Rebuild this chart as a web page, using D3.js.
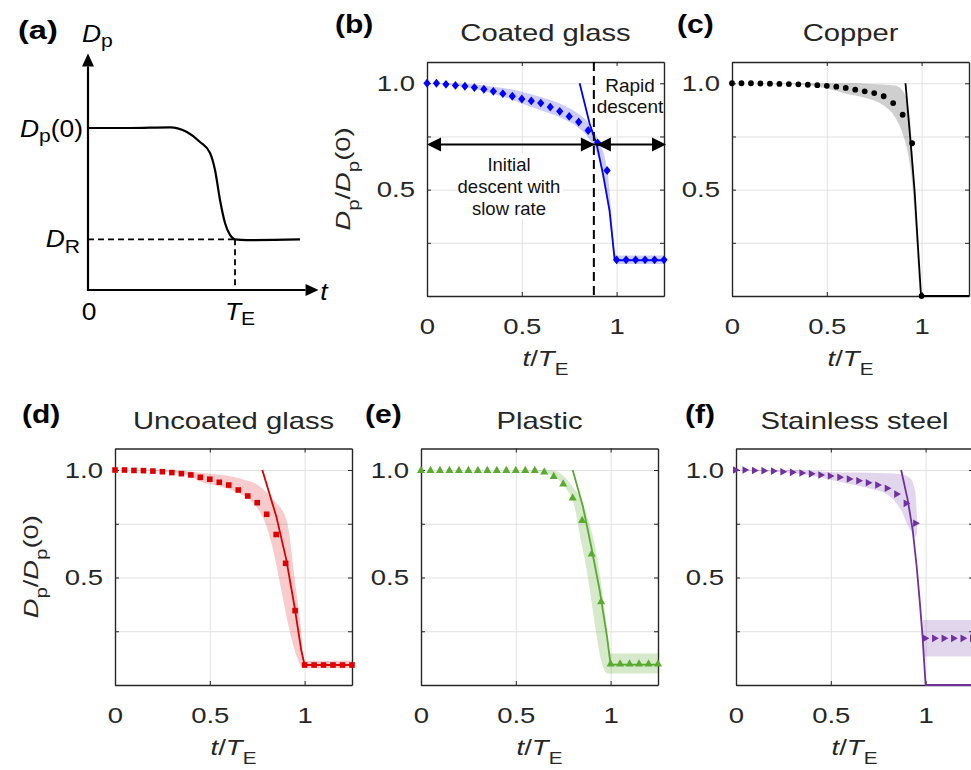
<!DOCTYPE html>
<html><head><meta charset="utf-8">
<script src="https://cdn.jsdelivr.net/npm/d3@7/dist/d3.min.js"></script>
<style>
 html,body{margin:0;padding:0;background:#fff}
 svg text{font-family:"Liberation Sans",Arial,Helvetica,sans-serif}
</style></head>
<body><svg id="fig" width="971" height="770" xmlns="http://www.w3.org/2000/svg"></svg>
<script>
// ================= DATA =================
// (a) schematic curve: t in units of T_E, D in units of Dp(0)
const schemT = [0, 0.286, 0.558, 0.673, 0.762, 0.830, 0.864, 0.898, 0.932, 0.966, 1.0, 1.082, 1.442];
const schemD = [1.0, 1.0, 1.004, 0.975, 0.914, 0.846, 0.741, 0.556, 0.414, 0.340, 0.313, 0.308, 0.312];
const schemDR = 0.313;

// sampling times of the measured points (t / T_E)
const tMeas = [0,0.05,0.1,0.15,0.2,0.25,0.3,0.35,0.4,0.45,0.5,0.55,0.6,0.65,0.7,0.75,0.8,0.85,0.9,0.95,1.0,1.05,1.1,1.15,1.2,1.25];
const tCopper = [0,0.05,0.1,0.15,0.2,0.25,0.3,0.35,0.4,0.45,0.5,0.55,0.6,0.65,0.7,0.75,0.8,0.85,0.9,0.95,1.0];

// (b) Coated glass
const coatedD = [1.0,1.0,0.995,0.99,0.986,0.98,0.972,0.962,0.951,0.939,0.926,0.917,0.907,0.888,0.868,0.844,0.818,0.778,0.72,0.59,0.17,0.17,0.17,0.17,0.17,0.17];
const coatedFitT = [0.805,0.858,0.896,0.928,0.963,0.99,1.25];
const coatedFitD = [1.0,0.81,0.708,0.574,0.40,0.168,0.168];
const coatedBandT  = [0,0.1,0.2,0.3,0.4,0.5,0.6,0.7,0.8,0.85,0.9,0.95,1.0,1.25];
const coatedBandHi = [1.0,1.0,0.997,0.99,0.978,0.96,0.935,0.905,0.855,0.815,0.74,0.6,0.19,0.19];
const coatedBandLo = [1.0,0.995,0.983,0.962,0.938,0.905,0.873,0.84,0.79,0.745,0.66,0.45,0.15,0.15];

// (c) Copper
const copperD = [1.0,1.0,1.0,0.999,0.998,0.997,0.996,0.995,0.993,0.991,0.988,0.984,0.978,0.97,0.962,0.954,0.939,0.907,0.852,0.718,0.0];
const copperFitT = [0.915,0.942,0.963,0.98,0.997,1.25];
const copperFitD = [1.0,0.723,0.495,0.244,0.0,0.0];
const copperBandT  = [0,0.3,0.4,0.5,0.6,0.7,0.8,0.86,0.9,0.93,0.95,0.97,0.99,1.0];
const copperBandHi = [1,1,1,1,1,0.998,0.993,0.99,0.965,0.89,0.7,0.38,0.05,0];
const copperBandLo = [1,0.997,0.99,0.975,0.951,0.932,0.895,0.84,0.764,0.66,0.53,0.29,0.03,0];

// (d) Uncoated glass
const uncoatedD = [1.0,1.0,0.998,0.997,0.995,0.992,0.988,0.983,0.977,0.966,0.957,0.943,0.93,0.907,0.879,0.848,0.794,0.70,0.566,0.346,0.093,0.093,0.093,0.093,0.093,0.093];
const uncoatedFitT = [0.777,0.851,0.904,0.947,0.982,1.0,1.25];
const uncoatedFitD = [1.0,0.783,0.581,0.364,0.163,0.093,0.093];
const uncoatedBandT  = [0,0.2,0.3,0.4,0.45,0.55,0.62,0.7,0.745,0.8,0.842,0.877,0.912,0.947,0.974,1.0,1.25];
const uncoatedBandHi = [1,1,0.998,0.993,0.987,0.978,0.969,0.95,0.935,0.895,0.855,0.82,0.74,0.5,0.32,0.113,0.113];
const uncoatedBandLo = [1,0.995,0.988,0.97,0.946,0.925,0.905,0.868,0.829,0.736,0.597,0.442,0.287,0.163,0.1,0.078,0.078];

// (e) Plastic
const plasticD = [1,1,1,1,1,1,1,1,1,1,1,1,1,0.993,0.972,0.937,0.872,0.768,0.612,0.39,0.1,0.1,0.1,0.1,0.1,0.1];
const plasticFitT = [0.80,0.854,0.898,0.942,0.981,1.0,1.25];
const plasticFitD = [1.0,0.83,0.643,0.442,0.225,0.095,0.095];
const plasticBandT  = [0,0.55,0.62,0.66,0.71,0.76,0.81,0.836,0.871,0.898,0.924,0.95,0.981,1.0,1.25];
const plasticBandHi = [1,1,1,1,0.995,0.965,0.91,0.88,0.8,0.72,0.62,0.47,0.26,0.147,0.147];
const plasticBandLo = [1,1,0.995,0.985,0.965,0.92,0.83,0.705,0.55,0.395,0.24,0.116,0.054,0.054,0.054];

// (f) Stainless steel
const steelD = [1.0,1.0,0.998,0.997,0.995,0.992,0.989,0.986,0.982,0.977,0.972,0.966,0.958,0.95,0.941,0.93,0.915,0.888,0.845,0.752,0.217,0.217,0.217,0.217,0.217,0.217];
const steelFitT = [0.871,0.906,0.932,0.953,0.97,0.984,1.0,1.25];
const steelFitD = [1.0,0.86,0.72,0.55,0.38,0.225,0.0,0.0];
const steelBandT  = [0,0.3,0.4,0.5,0.6,0.7,0.8,0.87,0.92,0.945,0.955,0.97,0.985,1.25];
const steelBandHi = [1,1,0.995,0.99,0.988,0.987,0.985,0.98,0.96,0.9,0.78,null,0.302,0.302];
const steelBandLo = [1,0.985,0.975,0.955,0.935,0.915,0.885,0.814,0.72,0.69,0.7,null,0.132,0.132];

// axes ticks
const xTickValues = [0, 0.5, 1];
const xTickLabels = ['0', '0.5', '1'];
const yTickValues = [0, 0.25, 0.5, 0.75, 1.0];
const yTickLabels = ['', '', '0.5', '', '1.0'];

// (b) annotation
const splitT = 0.88, arrowD = 0.712;

// ================= DRAW =================
const svg = d3.select('#fig');
const INK = '#262626', GRID = '#e1e1e1';

function rich(parent, o) {
  let tr = `translate(${o.x},${o.y})`;
  if (o.rotate) tr += ` rotate(${o.rotate})`;
  tr += ` scale(${o.sx || 1},1)`;
  const t = parent.append('text').attr('transform', tr)
    .attr('font-size', o.size).attr('text-anchor', o.anchor || 'start')
    .attr('fill', o.fill || INK).attr('font-weight', o.weight || 'normal');
  let cur = 0;
  o.parts.forEach(p => {
    const target = p.sub ? o.size * (o.subDrop ?? 0.42) : 0;
    const ts = t.append('tspan').text(p.t);
    if (target !== cur) ts.attr('dy', target - cur);
    cur = target;
    if (p.sub) ts.attr('font-size', o.size * (o.subSize ?? 0.75));
    if (p.it) ts.attr('font-style', 'italic');
  });
  return t;
}

// ---------- panel (a) ----------
(function () {
  const g = svg.append('g');
  const ax = d3.scaleLinear().domain([0, 1]).range([88, 235]);
  const ay = d3.scaleLinear().domain([0, 1]).range([290, 128]);
  const st = '#000';
  g.append('line').attr('x1', ax(0)).attr('y1', ay(0) + 1).attr('x2', ax(0)).attr('y2', ay(1.38))
    .attr('stroke', st).attr('stroke-width', 2.2);
  g.append('path').attr('d', `M${ax(0) - 6},${ay(1.38)} L${ax(0) + 6},${ay(1.38)} L${ax(0)},${ay(1.38) - 13} Z`).attr('fill', st);
  g.append('line').attr('x1', ax(0) - 1).attr('y1', ay(0)).attr('x2', ax(1.48)).attr('y2', ay(0))
    .attr('stroke', st).attr('stroke-width', 2.2);
  g.append('path').attr('d', `M${ax(1.48)},${ay(0) - 6} L${ax(1.48)},${ay(0) + 6} L${ax(1.48) + 13},${ay(0)} Z`).attr('fill', st);
  g.append('line').attr('x1', ax(0)).attr('x2', ax(1)).attr('y1', ay(schemDR)).attr('y2', ay(schemDR))
    .attr('stroke', st).attr('stroke-width', 1.8).attr('stroke-dasharray', '6,4');
  g.append('line').attr('x1', ax(1)).attr('x2', ax(1)).attr('y1', ay(schemDR)).attr('y2', ay(0))
    .attr('stroke', st).attr('stroke-width', 1.8).attr('stroke-dasharray', '6,4');
  g.append('path').datum(schemT.map((t, i) => [t, schemD[i]]))
    .attr('d', d3.line().x(d => ax(d[0])).y(d => ay(d[1])).curve(d3.curveMonotoneX))
    .attr('fill', 'none').attr('stroke', st).attr('stroke-width', 2.2);
  const o = { size: 24, sx: 1.1, fill: '#000', subDrop: 0.22, subSize: 0.8 };
  rich(g, { ...o, x: 18, y: 39, size: 25, sx: 1.3, weight: 'bold', parts: [{ t: '(a)' }] });
  rich(g, { ...o, x: 82, y: 42, parts: [{ t: 'D', it: 1 }, { t: 'p', sub: 1 }] });
  rich(g, { ...o, x: 83, y: ay(1) + 9, anchor: 'end', parts: [{ t: 'D', it: 1 }, { t: 'p', sub: 1 }, { t: '(0)' }] });
  rich(g, { ...o, x: 80, y: ay(schemDR) + 8, anchor: 'end', parts: [{ t: 'D', it: 1 }, { t: 'R', sub: 1 }] });
  rich(g, { ...o, x: ax(0) + 1, y: ay(0) + 30, anchor: 'middle', parts: [{ t: '0' }] });
  rich(g, { ...o, x: ax(1) + 5, y: ay(0) + 30, anchor: 'middle', parts: [{ t: 'T', it: 1 }, { t: 'E', sub: 1 }] });
  rich(g, { ...o, x: ax(1.58), y: ay(0) + 10, parts: [{ t: 't', it: 1 }] });
})();

// ---------- marker shapes ----------
const symDiamond = { draw(c) { c.moveTo(0, -4.4); c.lineTo(3.6, 0); c.lineTo(0, 4.4); c.lineTo(-3.6, 0); c.closePath(); } };
const symDot = { draw(c) { c.moveTo(2.9, 0); c.arc(0, 0, 2.9, 0, 2 * Math.PI); } };
const symSquare = { draw(c) { c.rect(-2.8, -2.8, 5.6, 5.6); } };
const symTriUp = { draw(c) { c.moveTo(0, -4.2); c.lineTo(4, 3); c.lineTo(-4, 3); c.closePath(); } };
const symTriRight = { draw(c) { c.moveTo(3.8, 0); c.lineTo(-3, -3.8); c.lineTo(-3, 3.8); c.closePath(); } };

// ---------- measured panels ----------
const W = 237;
const panels = [
  { key: 'b', left: 427, top: 62, h: 234, titleY: 41, letterX: 335, letterY: 33, letter: '(b)', title: 'Coated glass',
    color: '#0000ff', bandOp: 0.2, t: tMeas, d: coatedD, fitT: coatedFitT, fitD: coatedFitD,
    bandT: coatedBandT, bandHi: coatedBandHi, bandLo: coatedBandLo, sym: symDiamond, ylabel: true },
  { key: 'c', left: 732, top: 62, h: 234, titleY: 41, letterX: 677, letterY: 33, letter: '(c)', title: 'Copper',
    color: '#000000', bandOp: 0.19, t: tCopper, d: copperD, fitT: copperFitT, fitD: copperFitD,
    bandT: copperBandT, bandHi: copperBandHi, bandLo: copperBandLo, sym: symDot },
  { key: 'd', left: 115, top: 448.5, h: 236.5, titleY: 429, letterX: 22, letterY: 423, letter: '(d)', title: 'Uncoated glass',
    color: '#dc0000', bandOp: 0.2, t: tMeas, d: uncoatedD, fitT: uncoatedFitT, fitD: uncoatedFitD,
    bandT: uncoatedBandT, bandHi: uncoatedBandHi, bandLo: uncoatedBandLo, sym: symSquare, ylabel: true },
  { key: 'e', left: 421, top: 448.5, h: 236.5, titleY: 429, letterX: 365, letterY: 423, letter: '(e)', title: 'Plastic',
    color: '#5aaa30', bandOp: 0.25, t: tMeas, d: plasticD, fitT: plasticFitT, fitD: plasticFitD,
    bandT: plasticBandT, bandHi: plasticBandHi, bandLo: plasticBandLo, sym: symTriUp },
  { key: 'f', left: 736, top: 448.5, h: 236.5, titleY: 429, letterX: 685, letterY: 423, letter: '(f)', title: 'Stainless steel',
    color: '#7030a0', bandOp: 0.2, t: tMeas, d: steelD, fitT: steelFitT, fitD: steelFitD,
    bandT: steelBandT, bandHi: steelBandHi, bandLo: steelBandLo, sym: symTriRight }
];

panels.forEach(cfg => {
  const h = cfg.h;
  const g = svg.append('g').attr('transform', `translate(${cfg.left},${cfg.top})`);
  const x = d3.scaleLinear().domain([0, 1.25]).range([0, W]);
  const y = d3.scaleLinear().domain([0, 1.1]).range([h, 0]);

  g.append('g').attr('transform', `translate(0,${h})`)
    .call(d3.axisBottom(x).tickValues(xTickValues).tickSize(-h).tickFormat(''))
    .call(s => { s.select('.domain').remove(); s.selectAll('line').attr('stroke', GRID).attr('stroke-width', 1); });
  g.append('g')
    .call(d3.axisLeft(y).tickValues(yTickValues).tickSize(-W).tickFormat(''))
    .call(s => { s.select('.domain').remove(); s.selectAll('line').attr('stroke', GRID).attr('stroke-width', 1); });

  if (cfg.key === 'b') {
    g.append('rect').attr('x', 30).attr('y', 91).attr('width', 106).attr('height', 66).attr('fill', '#fff');
    g.append('rect').attr('x', x(splitT) + 4).attr('y', 2).attr('width', W - x(splitT) - 6).attr('height', 56).attr('fill', '#fff');
  }

  const fr = g.append('g');
  fr.append('g').attr('transform', `translate(0,${h})`)
    .call(d3.axisBottom(x).tickValues(xTickValues).tickSizeInner(-4).tickSizeOuter(0).tickPadding(22)
      .tickFormat((d, i) => xTickLabels[i]));
  fr.append('g').call(d3.axisTop(x).tickValues(xTickValues).tickSizeInner(-4).tickSizeOuter(0).tickFormat(''));
  fr.append('g').call(d3.axisLeft(y).tickValues(yTickValues).tickSizeInner(-4).tickSizeOuter(0).tickPadding(9.6)
    .tickFormat((d, i) => yTickLabels[i]));
  fr.append('g').attr('transform', `translate(${W},0)`)
    .call(d3.axisRight(y).tickValues(yTickValues).tickSizeInner(-4).tickSizeOuter(0).tickFormat(''));
  fr.selectAll('.domain').attr('stroke', INK).attr('stroke-width', 1.4);
  fr.selectAll('.tick line').attr('stroke', INK).attr('stroke-width', 1);
  fr.selectAll('.tick text').attr('font-size', 22).attr('fill', INK).attr('transform', 'scale(1.25,1)');

  const cid = 'clip-' + cfg.key;
  g.append('clipPath').attr('id', cid).append('rect').attr('x', -1).attr('y', -1).attr('width', W + 2).attr('height', h + 2);
  const dl = g.append('g').attr('clip-path', `url(#${cid})`);
  const band = cfg.bandT.map((t, i) => ({ t, hi: cfg.bandHi[i], lo: cfg.bandLo[i] }));
  dl.append('path').datum(band)
    .attr('d', d3.area().defined(d => d.hi != null).x(d => x(d.t)).y0(d => y(d.lo)).y1(d => y(d.hi)).curve(d3.curveMonotoneX))
    .attr('fill', cfg.color).attr('fill-opacity', cfg.bandOp).attr('stroke', 'none');
  dl.append('path').datum(cfg.fitT.map((t, i) => [t, cfg.fitD[i]]))
    .attr('d', d3.line().x(d => x(d[0])).y(d => y(d[1])))
    .attr('fill', 'none').attr('stroke', cfg.color).attr('stroke-width', 1.8).attr('stroke-linejoin', 'round');
  g.append('g').selectAll('path').data(cfg.t.map((t, i) => [t, cfg.d[i]])).join('path')
    .attr('transform', d => `translate(${x(d[0])},${y(d[1])})`)
    .attr('d', d3.symbol().type(cfg.sym)())
    .attr('fill', cfg.color);

  if (cfg.key === 'b') {
    const ya = y(arrowD), xs = x(splitT);
    g.append('line').attr('x1', xs).attr('x2', xs).attr('y1', 0).attr('y2', h)
      .attr('stroke', '#000').attr('stroke-width', 2).attr('stroke-dasharray', '9,5');
    g.append('line').attr('x1', x(0) + 6).attr('x2', x(1.25) - 6).attr('y1', ya).attr('y2', ya)
      .attr('stroke', '#000').attr('stroke-width', 2);
    const head = (tip, dir) => g.append('path')
      .attr('d', `M${tip},${ya} L${tip - dir * 14},${ya - 7} L${tip - dir * 14},${ya + 7} Z`).attr('fill', '#000');
    head(x(0), -1); head(xs + 1, 1); head(xs + 3, -1); head(x(1.25) + 2, 1);
    const at = { size: 18.5, anchor: 'middle', fill: '#111' };
    rich(g, { ...at, x: 82, y: 109, parts: [{ t: 'Initial' }] });
    rich(g, { ...at, x: 82, y: 131, parts: [{ t: 'descent with' }] });
    rich(g, { ...at, x: 82, y: 153, parts: [{ t: 'slow rate' }] });
    rich(g, { ...at, size: 19, x: 203, y: 30, parts: [{ t: 'Rapid' }] });
    rich(g, { ...at, size: 19, x: 203, y: 51, parts: [{ t: 'descent' }] });
  }

  rich(svg, { x: cfg.left + W / 2, y: cfg.titleY, size: 23, sx: 1.27, anchor: 'middle', parts: [{ t: cfg.title }] });
  rich(g, { x: W / 2, y: h + 70, size: 22, sx: 1.25, anchor: 'middle',
    parts: [{ t: 't', it: 1 }, { t: '/' }, { t: 'T', it: 1 }, { t: 'E', sub: 1 }] });
  if (cfg.ylabel) {
    rich(g, { x: -77, y: h / 2, size: 21, sx: 1.3, rotate: -90, anchor: 'middle',
      parts: [{ t: 'D', it: 1 }, { t: 'p', sub: 1 }, { t: '/' }, { t: 'D', it: 1 }, { t: 'p', sub: 1 }, { t: '(0)' }] });
  }
  rich(svg, { x: cfg.letterX, y: cfg.letterY, size: 25, sx: 1.2, weight: 'bold', fill: '#000', parts: [{ t: cfg.letter }] });
});
</script>
</body></html>
